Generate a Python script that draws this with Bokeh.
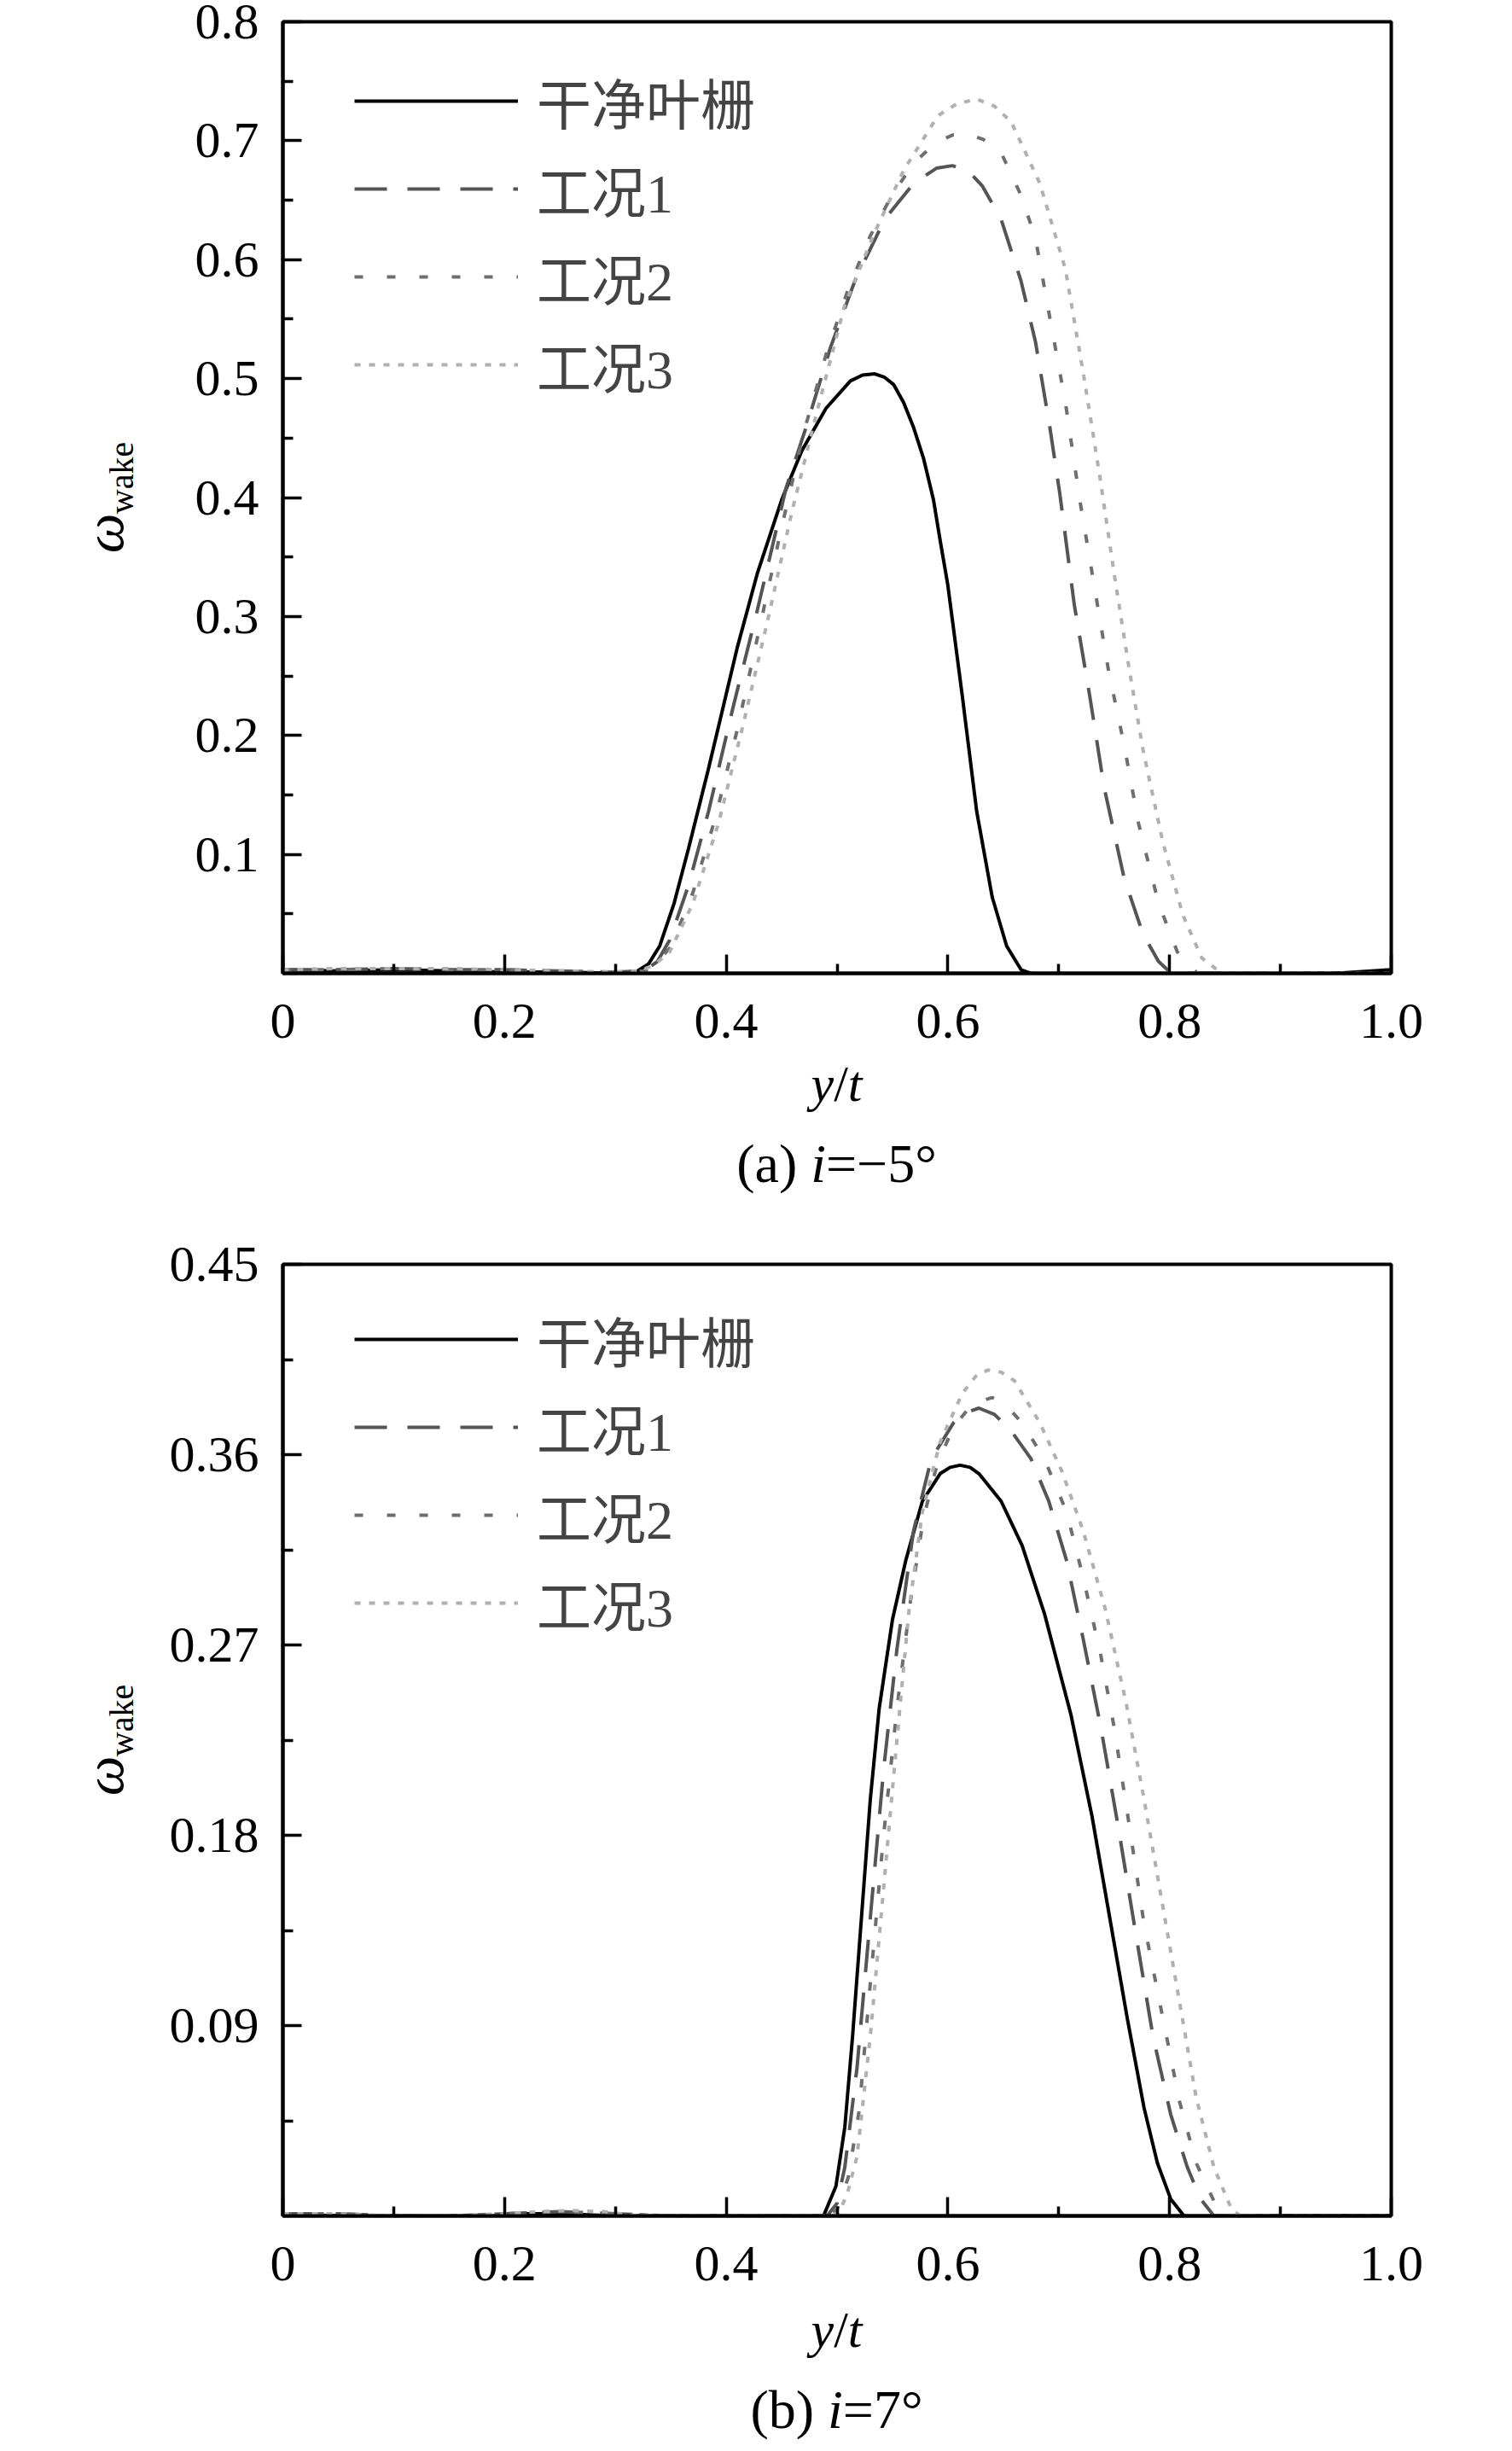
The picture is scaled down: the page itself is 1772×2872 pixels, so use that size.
from bokeh.plotting import figure
from bokeh.models import FixedTicker, Legend, LegendItem, Range1d, Div
from bokeh.layouts import column, row
from bokeh.embed import file_html
from bokeh.resources import INLINE

SERIES = ["干净叶栅", "工况1", "工况2", "工况3"]

# ---------------- panel (a) i = -5 deg ----------------
a_clean_x = [0, 0.05, 0.10, 0.15, 0.20, 0.25, 0.30, 0.32, 0.33, 0.34, 0.353, 0.366, 0.384, 0.397, 0.41, 0.428,
             0.45, 0.468, 0.49, 0.512, 0.523, 0.534, 0.543, 0.551, 0.56, 0.569, 0.578, 0.587, 0.593, 0.60, 0.613,
             0.626, 0.64, 0.653, 0.666, 0.684, 0.75, 0.85, 0.95, 1.0]
a_clean_y = [0.003, 0.002, 0.003, 0.002, 0.001, 0.001, 0.0, 0.002, 0.008, 0.023, 0.059, 0.105, 0.172, 0.223, 0.274,
             0.336, 0.398, 0.439, 0.475, 0.498, 0.503, 0.504, 0.501, 0.495, 0.48, 0.459, 0.433, 0.398, 0.364, 0.326,
             0.233, 0.136, 0.064, 0.023, 0.003, -0.003, -0.002, -0.001, 0.0, 0.003]

a_c1_x = [0, 0.05, 0.1, 0.15, 0.2, 0.25, 0.3, 0.326, 0.338, 0.349, 0.366, 0.384, 0.406, 0.428, 0.454, 0.472,
          0.494, 0.516, 0.543, 0.569, 0.59, 0.604, 0.618, 0.631, 0.648, 0.666, 0.679, 0.692, 0.701, 0.714,
          0.728, 0.741, 0.759, 0.776, 0.79, 0.798, 0.812, 0.9, 1.0]
a_c1_y = [0.003, 0.003, 0.004, 0.003, 0.003, 0.002, 0.001, 0.002, 0.01, 0.028, 0.074, 0.136, 0.223, 0.305, 0.408,
          0.459, 0.526, 0.582, 0.634, 0.664, 0.677, 0.679, 0.675, 0.662, 0.634, 0.582, 0.531, 0.459, 0.403,
          0.31, 0.233, 0.156, 0.08, 0.033, 0.01, 0.003, 0.0, 0.0, 0.0]

a_c2_x = [0, 0.05, 0.1, 0.15, 0.2, 0.25, 0.3, 0.33, 0.35, 0.37, 0.39, 0.41, 0.43, 0.45, 0.47, 0.49, 0.51, 0.53,
          0.55, 0.57, 0.59, 0.605, 0.617, 0.632, 0.648, 0.666, 0.679, 0.692, 0.706, 0.719, 0.732, 0.745, 0.759,
          0.772, 0.79, 0.807, 0.825, 0.9, 1.0]
a_c2_y = [0.003, 0.003, 0.004, 0.003, 0.003, 0.002, 0.001, 0.002, 0.022, 0.068, 0.13, 0.205, 0.29, 0.375, 0.455,
          0.52, 0.575, 0.62, 0.655, 0.682, 0.699, 0.705, 0.706, 0.701, 0.69, 0.654, 0.618, 0.551, 0.48, 0.398,
          0.326, 0.254, 0.192, 0.126, 0.059, 0.018, 0.0, 0.0, 0.0]

a_c3_x = [0, 0.05, 0.1, 0.15, 0.2, 0.25, 0.3, 0.322, 0.335, 0.349, 0.37, 0.393, 0.415, 0.437, 0.459, 0.481,
          0.507, 0.534, 0.56, 0.591, 0.608, 0.626, 0.642, 0.657, 0.683, 0.706, 0.723, 0.737, 0.75, 0.763, 0.776,
          0.794, 0.812, 0.829, 0.847, 0.9, 1.0]
a_c3_y = [0.003, 0.004, 0.004, 0.004, 0.003, 0.002, 0.001, 0.002, 0.007, 0.018, 0.059, 0.126, 0.208, 0.295, 0.387,
          0.469, 0.562, 0.623, 0.675, 0.721, 0.731, 0.735, 0.729, 0.716, 0.664, 0.592, 0.5, 0.418, 0.336, 0.259,
          0.188, 0.11, 0.049, 0.013, 0.0, 0.0, 0.0]

a_yticks = [0.1, 0.2, 0.3, 0.4, 0.5, 0.6, 0.7, 0.8]
a_ytick_labels = ["0.1", "0.2", "0.3", "0.4", "0.5", "0.6", "0.7", "0.8"]
a_yminor = [0.05, 0.15, 0.25, 0.35, 0.45, 0.55, 0.65, 0.75]

# ---------------- panel (b) i = 7 deg ----------------
b_clean_x = [0, 0.05, 0.1, 0.13, 0.16, 0.19, 0.22, 0.25, 0.3, 0.35, 0.4, 0.44, 0.465, 0.475, 0.487, 0.499, 0.507,
             0.514, 0.522, 0.53, 0.538, 0.55, 0.562, 0.577, 0.593, 0.602, 0.611, 0.62, 0.628, 0.648, 0.667, 0.687,
             0.711, 0.73, 0.746, 0.762, 0.777, 0.789, 0.801, 0.813, 0.83, 0.86, 0.9, 1.0]
b_clean_y = [0.001, 0.0, -0.001, -0.003, -0.0035, -0.002, 0.001, 0.001, 0.0, -0.001, -0.001, -0.001, -0.003,
             -0.0035, -0.001, 0.014, 0.042, 0.085, 0.141, 0.197, 0.24, 0.282, 0.31, 0.338, 0.351, 0.354, 0.355,
             0.354, 0.351, 0.338, 0.317, 0.285, 0.237, 0.189, 0.141, 0.093, 0.051, 0.025, 0.008, 0.0, -0.002,
             -0.001, 0.0, 0.0]

b_c1_x = [0, 0.05, 0.1, 0.15, 0.2, 0.25, 0.3, 0.35, 0.4, 0.45, 0.48, 0.491, 0.5, 0.507, 0.518, 0.53, 0.542, 0.554,
          0.569, 0.585, 0.605, 0.617, 0.628, 0.642, 0.656, 0.675, 0.691, 0.707, 0.722, 0.738, 0.754, 0.769, 0.785,
          0.801, 0.816, 0.828, 0.84, 0.9, 1.0]
b_c1_y = [0.001, 0.001, 0.0, 0.0, 0.001, 0.002, 0.001, 0.0, 0.0, 0.0, 0.0, 0.0, 0.006, 0.023, 0.07, 0.141, 0.211,
          0.268, 0.324, 0.358, 0.375, 0.38, 0.382, 0.379, 0.372, 0.358, 0.338, 0.31, 0.273, 0.231, 0.183, 0.135,
          0.085, 0.048, 0.023, 0.008, 0.0, 0.0, 0.0]

b_c2_x = [0, 0.05, 0.1, 0.15, 0.2, 0.25, 0.3, 0.35, 0.4, 0.45, 0.49, 0.5, 0.51, 0.52, 0.53, 0.542, 0.554, 0.566,
          0.578, 0.59, 0.605, 0.622, 0.64, 0.653, 0.667, 0.687, 0.707, 0.722, 0.738, 0.75, 0.765, 0.777, 0.793,
          0.809, 0.824, 0.84, 0.852, 0.9, 1.0]
b_c2_y = [0.001, 0.001, 0.0, 0.0, 0.001, 0.002, 0.001, 0.0, 0.0, 0.0, 0.0, 0.003, 0.018, 0.05, 0.11, 0.18, 0.24,
          0.29, 0.33, 0.355, 0.373, 0.384, 0.387, 0.383, 0.375, 0.358, 0.333, 0.302, 0.265, 0.231, 0.18, 0.138,
          0.096, 0.054, 0.025, 0.007, 0.0, 0.0, 0.0]

b_c3_x = [0, 0.05, 0.1, 0.15, 0.2, 0.23, 0.26, 0.29, 0.32, 0.35, 0.4, 0.45, 0.49, 0.501, 0.509, 0.518, 0.53, 0.542,
          0.554, 0.565, 0.577, 0.593, 0.613, 0.625, 0.636, 0.648, 0.66, 0.683, 0.703, 0.722, 0.742, 0.761, 0.777,
          0.793, 0.809, 0.824, 0.84, 0.856, 0.864, 0.9, 1.0]
b_c3_y = [0.001, 0.001, 0.0, 0.0, 0.001, 0.002, 0.0025, 0.002, 0.0, 0.0, 0.0, 0.0, 0.0, 0.001, 0.01, 0.028, 0.085,
          0.155, 0.225, 0.287, 0.333, 0.366, 0.389, 0.397, 0.4, 0.399, 0.395, 0.375, 0.352, 0.324, 0.287, 0.242,
          0.197, 0.149, 0.101, 0.056, 0.023, 0.003, 0.0, 0.0, 0.0]

b_yticks = [0.09, 0.18, 0.27, 0.36, 0.45]
b_ytick_labels = ["0.09", "0.18", "0.27", "0.36", "0.45"]
b_yminor = [0.045, 0.135, 0.225, 0.315, 0.405]

xticks = [0, 0.2, 0.4, 0.6, 0.8, 1.0]
xtick_labels = ["0", "0.2", "0.4", "0.6", "0.8", "1.0"]
xminor = [0.1, 0.3, 0.5, 0.7, 0.9]

X_TITLE = "<i>y</i>/<i>t</i>"
Y_TITLE_MAIN = "ω"
Y_TITLE_SUB = "wake"
CAPTION_A = "(a) <i>i</i>=−5°"
CAPTION_B = "(b) <i>i</i>=7°"

SERIF = "Liberation Serif"
MIXED = "'Liberation Serif', 'Noto Sans CJK SC'"
STYLES = [
    dict(color="#000000", width=4, dash="solid"),
    dict(color="#555555", width=4, dash="38 24"),
    dict(color="#6e6e6e", width=4, dash="10 28"),
    dict(color="#b0b0b0", width=4, dash="7 10"),
]
FW, FH = 1299, 1115
LBL_W = 180
FIG_W = 1764 - LBL_W
LEFT = 331 - LBL_W
RIGHT = FIG_W - LEFT - FW
BOTTOM = 105
TICK_FS = "60px"


def panel(series, ymax, yticks, ylabels, yminor, top, leg_first):
    height = top + FH + BOTTOM
    p = figure(width=FIG_W, height=height, x_range=Range1d(0, 1.0), y_range=Range1d(0, ymax),
               output_backend="svg", toolbar_location=None, title=None,
               min_border_left=LEFT, min_border_right=RIGHT, min_border_top=top,
               min_border_bottom=BOTTOM)
    p.grid.visible = False
    p.background_fill_color = "white"
    p.border_fill_color = "white"
    p.outline_line_color = "black"
    p.outline_line_width = 4

    items = []
    for (xs, ys), name, st in zip(series, SERIES, STYLES):
        r = p.line(xs, ys, line_color=st["color"], line_width=st["width"], line_dash=st["dash"])
        items.append(LegendItem(label=name, renderers=[r]))

    n = len(items)
    lh, sp = 96, 7
    leg_h = n * lh + (n - 1) * sp
    leg_top = leg_first - lh / 2
    leg = Legend(items=items, location=(84, FH - leg_top - leg_h), border_line_color=None,
                 background_fill_alpha=0, padding=0, margin=0, spacing=sp,
                 label_height=lh, glyph_height=lh, glyph_width=192, label_standoff=22,
                 label_text_font_size="64px", label_text_font=MIXED)
    p.add_layout(leg)

    for ax in (p.xaxis[0], p.yaxis[0]):
        ax.axis_line_width = 4
        ax.major_tick_line_width = 3.5
        ax.minor_tick_line_width = 3.5
        ax.major_tick_out = 0
        ax.minor_tick_out = 0
        ax.major_label_text_font = SERIF
        ax.major_label_text_font_size = TICK_FS
        ax.major_label_text_color = "black"

    xa = p.xaxis[0]
    xa.ticker = FixedTicker(ticks=xticks, minor_ticks=xminor)
    xa.major_label_overrides = {t: l for t, l in zip(xticks, xtick_labels)}
    xa.major_tick_in = 22
    xa.minor_tick_in = 11
    xa.major_label_standoff = 36

    ya = p.yaxis[0]
    ya.ticker = FixedTicker(ticks=yticks, minor_ticks=yminor)
    ya.major_label_overrides = {t: l for t, l in zip(yticks, ylabels)}
    ya.major_tick_in = 22
    ya.minor_tick_in = 12
    ya.major_label_standoff = 28
    return p, height


def ylabel_div(height, top):
    cy = top + FH / 2
    html = (
        f'<div style="position:relative;width:{LBL_W}px;height:{height}px;font-family:\'{SERIF}\';color:#000;">'
        f'<div style="position:absolute;left:121.6px;top:{cy + 42:.1f}px;transform:translate(-50%,-50%) rotate(-90deg);'
        f'white-space:nowrap;font-size:66px;line-height:1;font-style:italic;">{Y_TITLE_MAIN}</div>'
        f'<div style="position:absolute;left:143.4px;top:{cy - 23:.1f}px;transform:translate(-50%,-50%) rotate(-90deg);'
        f'white-space:nowrap;font-size:40px;line-height:1;">{Y_TITLE_SUB}</div>'
        '</div>'
    )
    return Div(text=html, width=LBL_W, height=height, margin=0)


def caption_div(height, t1, t2, caption):
    html = (
        f'<div style="position:relative;width:1764px;height:{height}px;font-family:\'{SERIF}\';color:#000;">'
        f'<div style="position:absolute;left:331px;width:{FW}px;top:{t1}px;height:64px;line-height:64px;'
        f'font-size:60px;text-align:center;white-space:nowrap;">{X_TITLE}</div>'
        f'<div style="position:absolute;left:331px;width:{FW}px;top:{t2}px;height:64px;line-height:64px;'
        f'font-size:64px;text-align:center;white-space:nowrap;">{caption}</div>'
        '</div>'
    )
    return Div(text=html, width=1764, height=height, margin=0)


pa, ha = panel([(a_clean_x, a_clean_y), (a_c1_x, a_c1_y), (a_c2_x, a_c2_y), (a_c3_x, a_c3_y)],
               0.8, a_yticks, a_ytick_labels, a_yminor, 25, 93)
pb, hb = panel([(b_clean_x, b_clean_y), (b_c1_x, b_c1_y), (b_c2_x, b_c2_y), (b_c3_x, b_c3_y)],
               0.45, b_yticks, b_ytick_labels, b_yminor, 49, 88)

layout = column(
    row(ylabel_div(ha, 25), pa, spacing=0),
    caption_div(187, -7, 87, CAPTION_A),
    row(ylabel_div(hb, 49), pb, spacing=0),
    caption_div(150, -3, 91, CAPTION_B),
    spacing=0,
)
open("out.html", "w").write(file_html(layout, INLINE))
